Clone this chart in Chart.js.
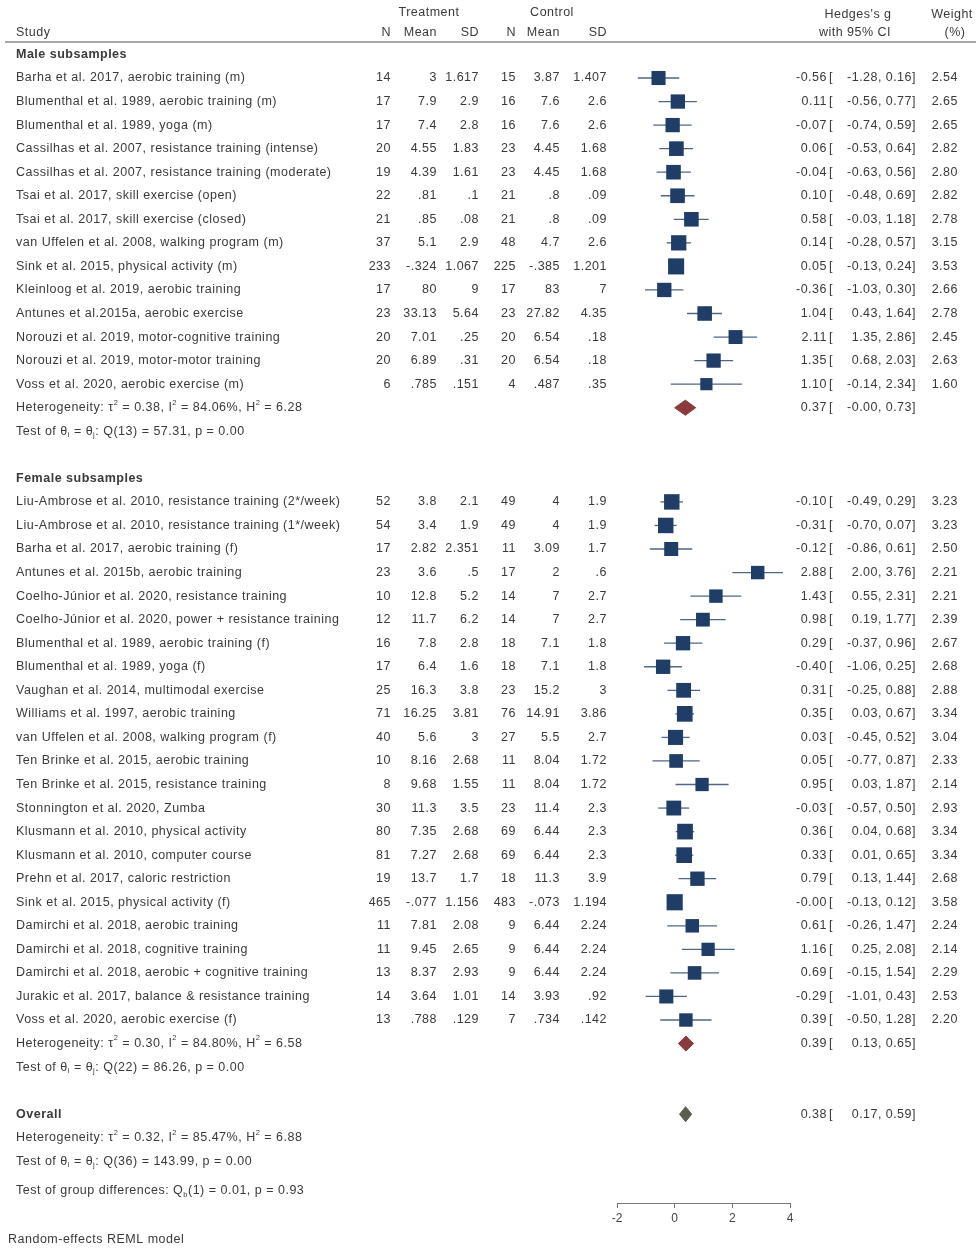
<!DOCTYPE html>
<html><head><meta charset="utf-8">
<script src="https://cdn.jsdelivr.net/npm/chart.js@4/dist/chart.umd.min.js"></script>
<style>html,body{margin:0;padding:0;background:#fff;}</style>
</head><body>
<canvas id="c" width="978" height="1254"></canvas>
<script>
// ---------------- DATA ----------------
const maleStudy = [
 "Barha et al. 2017, aerobic training (m)",
 "Blumenthal et al. 1989, aerobic training (m)",
 "Blumenthal et al. 1989, yoga (m)",
 "Cassilhas et al. 2007, resistance training (intense)",
 "Cassilhas et al. 2007, resistance training (moderate)",
 "Tsai et al. 2017, skill exercise (open)",
 "Tsai et al. 2017, skill exercise (closed)",
 "van Uffelen et al. 2008, walking program (m)",
 "Sink et al. 2015, physical activity (m)",
 "Kleinloog et al. 2019, aerobic training",
 "Antunes et al.2015a, aerobic exercise",
 "Norouzi et al. 2019, motor-cognitive training",
 "Norouzi et al. 2019, motor-motor training",
 "Voss et al. 2020, aerobic exercise (m)"
];
const maleTN    = [14, 17, 17, 20, 19, 22, 21, 37, 233, 17, 23, 20, 20, 6];
const maleTMean = [3, 7.9, 7.4, 4.55, 4.39, .81, .85, 5.1, -.324, 80, 33.13, 7.01, 6.89, .785];
const maleTSD   = [1.617, 2.9, 2.8, 1.83, 1.61, .1, .08, 2.9, 1.067, 9, 5.64, .25, .31, .151];
const maleCN    = [15, 16, 16, 23, 23, 21, 21, 48, 225, 17, 23, 20, 20, 4];
const maleCMean = [3.87, 7.6, 7.6, 4.45, 4.45, .8, .8, 4.7, -.385, 83, 27.82, 6.54, 6.54, .487];
const maleCSD   = [1.407, 2.6, 2.6, 1.68, 1.68, .09, .09, 2.6, 1.201, 7, 4.35, .18, .18, .35];
const maleG     = [-0.56, 0.11, -0.07, 0.06, -0.04, 0.10, 0.58, 0.14, 0.05, -0.36, 1.04, 2.11, 1.35, 1.10];
const maleLo    = [-1.28, -0.56, -0.74, -0.53, -0.63, -0.48, -0.03, -0.28, -0.13, -1.03, 0.43, 1.35, 0.68, -0.14];
const maleHi    = [0.16, 0.77, 0.59, 0.64, 0.56, 0.69, 1.18, 0.57, 0.24, 0.30, 1.64, 2.86, 2.03, 2.34];
const maleW     = [2.54, 2.65, 2.65, 2.82, 2.80, 2.82, 2.78, 3.15, 3.53, 2.66, 2.78, 2.45, 2.63, 1.60];

const femaleStudy = [
 "Liu-Ambrose et al. 2010, resistance training (2*/week)",
 "Liu-Ambrose et al. 2010, resistance training (1*/week)",
 "Barha et al. 2017, aerobic training (f)",
 "Antunes et al. 2015b, aerobic training",
 "Coelho-Júnior et al. 2020, resistance training",
 "Coelho-Júnior et al. 2020, power + resistance training",
 "Blumenthal et al. 1989, aerobic training (f)",
 "Blumenthal et al. 1989, yoga (f)",
 "Vaughan et al. 2014, multimodal exercise",
 "Williams et al. 1997, aerobic training",
 "van Uffelen et al. 2008, walking program (f)",
 "Ten Brinke et al. 2015, aerobic training",
 "Ten Brinke et al. 2015, resistance training",
 "Stonnington et al. 2020, Zumba",
 "Klusmann et al. 2010, physical activity",
 "Klusmann et al. 2010, computer course",
 "Prehn et al. 2017, caloric restriction",
 "Sink et al. 2015, physical activity (f)",
 "Damirchi et al. 2018, aerobic training",
 "Damirchi et al. 2018, cognitive training",
 "Damirchi et al. 2018, aerobic + cognitive training",
 "Jurakic et al. 2017, balance & resistance training",
 "Voss et al. 2020, aerobic exercise (f)"
];
const femaleTN    = [52, 54, 17, 23, 10, 12, 16, 17, 25, 71, 40, 10, 8, 30, 80, 81, 19, 465, 11, 11, 13, 14, 13];
const femaleTMean = [3.8, 3.4, 2.82, 3.6, 12.8, 11.7, 7.8, 6.4, 16.3, 16.25, 5.6, 8.16, 9.68, 11.3, 7.35, 7.27, 13.7, -.077, 7.81, 9.45, 8.37, 3.64, .788];
const femaleTSD   = [2.1, 1.9, 2.351, .5, 5.2, 6.2, 2.8, 1.6, 3.8, 3.81, 3, 2.68, 1.55, 3.5, 2.68, 2.68, 1.7, 1.156, 2.08, 2.65, 2.93, 1.01, .129];
const femaleCN    = [49, 49, 11, 17, 14, 14, 18, 18, 23, 76, 27, 11, 11, 23, 69, 69, 18, 483, 9, 9, 9, 14, 7];
const femaleCMean = [4, 4, 3.09, 2, 7, 7, 7.1, 7.1, 15.2, 14.91, 5.5, 8.04, 8.04, 11.4, 6.44, 6.44, 11.3, -.073, 6.44, 6.44, 6.44, 3.93, .734];
const femaleCSD   = [1.9, 1.9, 1.7, .6, 2.7, 2.7, 1.8, 1.8, 3, 3.86, 2.7, 1.72, 1.72, 2.3, 2.3, 2.3, 3.9, 1.194, 2.24, 2.24, 2.24, .92, .142];
const femaleG     = [-0.10, -0.31, -0.12, 2.88, 1.43, 0.98, 0.29, -0.40, 0.31, 0.35, 0.03, 0.05, 0.95, -0.03, 0.36, 0.33, 0.79, -0.00, 0.61, 1.16, 0.69, -0.29, 0.39];
const femaleLo    = [-0.49, -0.70, -0.86, 2.00, 0.55, 0.19, -0.37, -1.06, -0.25, 0.03, -0.45, -0.77, 0.03, -0.57, 0.04, 0.01, 0.13, -0.13, -0.26, 0.25, -0.15, -1.01, -0.50];
const femaleHi    = [0.29, 0.07, 0.61, 3.76, 2.31, 1.77, 0.96, 0.25, 0.88, 0.67, 0.52, 0.87, 1.87, 0.50, 0.68, 0.65, 1.44, 0.12, 1.47, 2.08, 1.54, 0.43, 1.28];
const femaleW     = [3.23, 3.23, 2.50, 2.21, 2.21, 2.39, 2.67, 2.68, 2.88, 3.34, 3.04, 2.33, 2.14, 2.93, 3.34, 3.34, 2.68, 3.58, 2.24, 2.14, 2.29, 2.53, 2.20];

// pooled estimates: [estimate, lower, upper]
const maleSummary    = [0.37, -0.00, 0.73];
const femaleSummary  = [0.39, 0.13, 0.65];
const overallSummary = [0.38, 0.17, 0.59];

// heterogeneity statistics: tau2, I2, H2, df, Q, p
const maleHet    = ["0.38", "84.06%", "6.28", "13", "57.31", "0.00"];
const femaleHet  = ["0.30", "84.80%", "6.58", "22", "86.26", "0.00"];
const overallHet = ["0.32", "85.47%", "6.88", "36", "143.99", "0.00"];
const groupTest  = ["1", "0.01", "0.93"];

const xTicks = [-2, 0, 2, 4];

// ---------------- LAYOUT ----------------
const FONT = '"Liberation Sans", Arial, sans-serif';
const FS = 12.5;
const LS = '0.5px';
const TXT = '#3a3a3a';
const BOX = '#1f3d66';
const CI = '#4f6686';
const MAROON = '#8b3a3e';
const OLIVE = '#5b5e4f';

const maleRow0 = 0, femaleRow0 = 18;
const rows = {
  top1: -2.76, top2: -1.91, rule: -1.53,
  maleHead: -1, maleHet: 14, maleTest: 15,
  femaleHead: 17, femaleHet: 41, femaleTest: 42,
  overall: 44, overallHet: 45, overallTest: 46, group: 47.25, note: 49.34
};

function fmtNum(v){ return String(v).replace(/^(-?)0\./, '$1.'); }
function fmt2(v){ return ((v < 0 || Object.is(v, -0)) ? '-' : '') + Math.abs(v).toFixed(2); }
function boxRadius(w){ return (9 + 2 * w) / Math.SQRT2; }

// build datasets
const boxData = [], boxRadii = [], ciSets = [];
function addGroup(g, lo, hi, w, r0){
  for (let i = 0; i < g.length; i++){
    boxData.push({x: g[i], y: r0 + i});
    boxRadii.push(boxRadius(w[i]));
    ciSets.push({
      type: 'scatter', showLine: true, data: [{x: lo[i], y: r0 + i}, {x: hi[i], y: r0 + i}],
      borderColor: CI, borderWidth: 1.3, pointRadius: 0, order: 3
    });
  }
}
addGroup(maleG, maleLo, maleHi, maleW, maleRow0);
addGroup(femaleG, femaleLo, femaleHi, femaleW, femaleRow0);

const DH = 0.32;
function diamond(s, r, color){
  return {
    type: 'scatter', showLine: true, fill: 'shape', order: 1,
    data: [{x: s[1], y: r}, {x: s[0], y: r - DH}, {x: s[2], y: r}, {x: s[0], y: r + DH}, {x: s[1], y: r}],
    borderColor: color, backgroundColor: color, borderWidth: 1, pointRadius: 0, tension: 0
  };
}

const datasets = [
  { type: 'scatter', data: boxData, pointStyle: 'rect', pointRadius: boxRadii, pointHoverRadius: boxRadii,
    backgroundColor: BOX, borderColor: BOX, borderWidth: 0, order: 0 },
  diamond(maleSummary, rows.maleHet, MAROON),
  diamond(femaleSummary, rows.femaleHet, MAROON),
  diamond(overallSummary, rows.overall, OLIVE),
  ...ciSets
];

// ---------------- TEXT PLUGIN ----------------
function drawRich(ctx, x, y, parts, size, weight){
  let cx = x;
  for (const [t, k] of parts){
    let fs = size, dy = 0;
    if (k === 'sup'){ fs = size * 0.6; dy = -size * 0.42; }
    if (k === 'sub'){ fs = size * 0.6; dy = size * 0.3; }
    ctx.font = (weight || '') + ' ' + fs + 'px ' + FONT;
    ctx.textAlign = 'left';
    ctx.fillText(t, cx, y + dy);
    cx += ctx.measureText(t).width;
  }
}
function hetParts(h){
  return [["Heterogeneity: τ", 'n'], ["2", 'sup'], [" = " + h[0] + ", I", 'n'], ["2", 'sup'],
          [" = " + h[1] + ", H", 'n'], ["2", 'sup'], [" = " + h[2], 'n']];
}
function testParts(h){
  return [["Test of θ", 'n'], ["i", 'sub'], [" = θ", 'n'], ["j", 'sub'], [": Q(" + h[3] + ") = " + h[4] + ", p = " + h[5], 'n']];
}

const textPlugin = {
  id: 'forestText',
  afterDraw(chart){
    const ctx = chart.ctx, ys = chart.scales.y;
    const Y = r => ys.getPixelForValue(r);
    ctx.save();
    ctx.fillStyle = TXT;
    ctx.textBaseline = 'middle';
    try { ctx.letterSpacing = LS; } catch (e) {}
    const put = (t, x, r, align, bold) => {
      ctx.font = (bold ? 'bold ' : '') + FS + 'px ' + FONT;
      ctx.textAlign = align || 'left';
      ctx.fillText(t, x, Y(r));
    };
    const colX = {tn: 391, tm: 437, ts: 479, cn: 516, cm: 560, cs: 607};
    // header
    put('Treatment', 429, rows.top1, 'center');
    put('Control', 552, rows.top1, 'center');
    put('Hedges\'s g', 858, rows.top1 + 0.05, 'center');
    put('Weight', 952, rows.top1 + 0.05, 'center');
    put('Study', 16, rows.top2);
    put('N', colX.tn, rows.top2, 'right');
    put('Mean', colX.tm, rows.top2, 'right');
    put('SD', colX.ts, rows.top2, 'right');
    put('N', colX.cn, rows.top2, 'right');
    put('Mean', colX.cm, rows.top2, 'right');
    put('SD', colX.cs, rows.top2, 'right');
    put('with 95% CI', 855, rows.top2, 'center');
    put('(%)', 955, rows.top2, 'center');
    ctx.strokeStyle = '#8a8a8a'; ctx.lineWidth = 1.5;
    ctx.beginPath(); ctx.moveTo(5, Y(rows.rule)); ctx.lineTo(976, Y(rows.rule)); ctx.stroke();

    const ciText = (est, lo, hi, r, w) => {
      put(fmt2(est), 827, r, 'right');
      put('[', 829, r, 'left');
      put(fmt2(lo) + ',', 882, r, 'right');
      put(fmt2(hi) + ']', 916, r, 'right');
      if (w !== undefined) put(w.toFixed(2), 958, r, 'right');
    };
    const group = (names, tn, tm, ts, cn, cm, cs, g, lo, hi, w, r0) => {
      for (let i = 0; i < names.length; i++){
        const r = r0 + i;
        put(names[i], 16, r);
        put(String(tn[i]), colX.tn, r, 'right');
        put(fmtNum(tm[i]), colX.tm, r, 'right');
        put(fmtNum(ts[i]), colX.ts, r, 'right');
        put(String(cn[i]), colX.cn, r, 'right');
        put(fmtNum(cm[i]), colX.cm, r, 'right');
        put(fmtNum(cs[i]), colX.cs, r, 'right');
        ciText(g[i], lo[i], hi[i], r, w[i]);
      }
    };
    put('Male subsamples', 16, rows.maleHead, 'left', true);
    group(maleStudy, maleTN, maleTMean, maleTSD, maleCN, maleCMean, maleCSD, maleG, maleLo, maleHi, maleW, maleRow0);
    drawRich(ctx, 16, Y(rows.maleHet), hetParts(maleHet), FS);
    ciText(maleSummary[0], maleSummary[1], maleSummary[2], rows.maleHet);
    drawRich(ctx, 16, Y(rows.maleTest), testParts(maleHet), FS);

    put('Female subsamples', 16, rows.femaleHead, 'left', true);
    group(femaleStudy, femaleTN, femaleTMean, femaleTSD, femaleCN, femaleCMean, femaleCSD, femaleG, femaleLo, femaleHi, femaleW, femaleRow0);
    drawRich(ctx, 16, Y(rows.femaleHet), hetParts(femaleHet), FS);
    ciText(femaleSummary[0], femaleSummary[1], femaleSummary[2], rows.femaleHet);
    drawRich(ctx, 16, Y(rows.femaleTest), testParts(femaleHet), FS);

    put('Overall', 16, rows.overall, 'left', true);
    ciText(overallSummary[0], overallSummary[1], overallSummary[2], rows.overall);
    drawRich(ctx, 16, Y(rows.overallHet), hetParts(overallHet), FS);
    drawRich(ctx, 16, Y(rows.overallTest), testParts(overallHet), FS);
    drawRich(ctx, 16, Y(rows.group), [["Test of group differences: Q", 'n'], ["b", 'sub'],
      ["(" + groupTest[0] + ") = " + groupTest[1] + ", p = " + groupTest[2], 'n']], FS);
    put('Random-effects REML model', 8, rows.note);
    ctx.restore();
  }
};

new Chart(document.getElementById('c'), {
  type: 'scatter',
  data: { datasets },
  options: {
    responsive: false, animation: false, devicePixelRatio: 1,
    layout: { autoPadding: false, padding: { left: 617, right: 188, top: 0, bottom: 0 } },
    plugins: { legend: { display: false }, tooltip: { enabled: false } },
    scales: {
      x: {
        type: 'linear', min: xTicks[0], max: xTicks[xTicks.length - 1],
        afterBuildTicks: s => { s.ticks = xTicks.map(v => ({value: v})); },
        afterFit: s => { s.height = 51; },
        ticks: { color: '#444', font: { family: FONT, size: 12 }, padding: 3, maxRotation: 0 },
        grid: { drawOnChartArea: false, drawTicks: true, tickLength: 5, color: '#777', lineWidth: 1 },
        border: { display: true, color: '#777', width: 1 }
      },
      y: { type: 'linear', reverse: true, min: -3.312, max: 47.77, display: false }
    }
  },
  plugins: [textPlugin]
});
</script>
</body></html>
